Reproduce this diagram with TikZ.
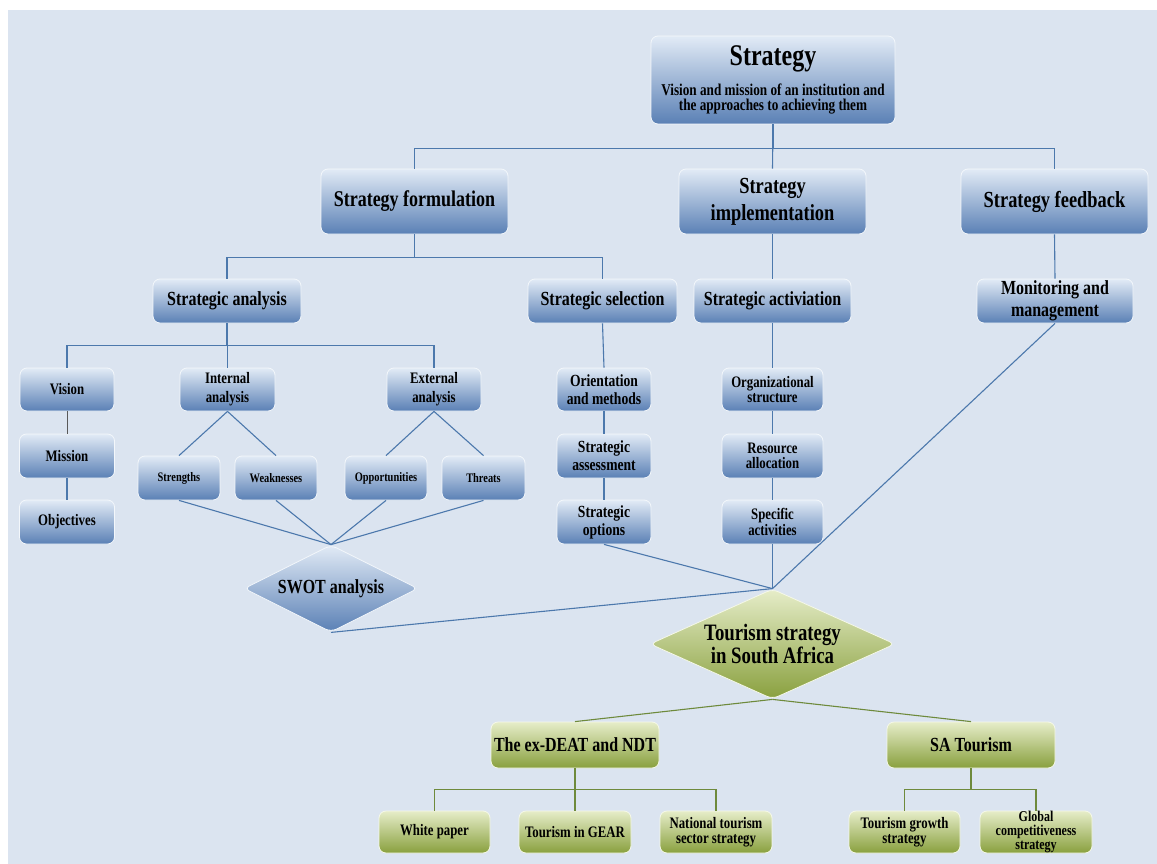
\documentclass[tikz,border=0pt]{standalone}
\usepackage{fontspec}
\setmainfont{Liberation Serif}[FakeStretch=0.8]
\usetikzlibrary{shapes.geometric}
\definecolor{pagebg}{HTML}{DBE4F0}
\definecolor{btop}{HTML}{E2EBF6}
\definecolor{bbot}{HTML}{5A80B5}
\definecolor{gtop}{HTML}{E6EDC9}
\definecolor{gbot}{HTML}{89A03E}
\definecolor{bline}{HTML}{4C78AC}
\definecolor{gline}{HTML}{6E8A3C}
\newcommand\fsz[2]{\fontsize{#1}{#2}\selectfont\bfseries}
\tikzset{
  bbox/.style={rectangle, rounded corners=7, draw=white!60!btop, line width=0.8,
    top color=btop, bottom color=bbot, align=center, inner sep=0, text=black},
  gbox/.style={bbox, top color=gtop, bottom color=gbot, draw=white!60!gtop},
  bdiam/.style={diamond, aspect=2, rounded corners=6, draw=white!60!btop, line width=0.8,
    top color=btop, bottom color=bbot, align=center, inner sep=0},
  gdiam/.style={bdiam, top color=gtop, bottom color=gbot, draw=white!60!gtop},
  bl/.style={draw=bline, line width=1.1},
  gl/.style={draw=gline, line width=1.1},
  fs/.style 2 args={font=\fsz{#1}{#2}},
}
\begin{document}
\begin{tikzpicture}[x=1pt, y=-1pt]
\useasboundingbox (0,0) rectangle (1157,864);
\fill[pagebg] (8,10) rectangle (1157,864);

% top level
\node[bbox, fs={16.5}{15}, minimum width=244, minimum height=88] (strat) at (773,80)
  {{\fontsize{30}{30}\selectfont Strategy}\\[10pt]Vision and mission of an institution and\\the approaches to achieving them};

% second level
\node[bbox, fs={22.5}{27}, minimum width=187, minimum height=65] (form) at (414.5,201.5) {Strategy formulation};
\node[bbox, fs={23}{27}, minimum width=187, minimum height=65] (impl) at (772.5,201.5) {Strategy\\implementation};
\node[bbox, fs={23}{27}, minimum width=187, minimum height=65] (fb) at (1054.5,201.5) {Strategy feedback};

% third level
\node[bbox, fs={20}{22}, minimum width=148, minimum height=44] (sana) at (227,301) {Strategic analysis};
\node[bbox, fs={20}{22}, minimum width=149, minimum height=44] (ssel) at (602.5,301) {Strategic selection};
\node[bbox, fs={20}{22}, minimum width=157, minimum height=44] (sact) at (772.5,301) {Strategic activiation};
\node[bbox, fs={20}{22}, minimum width=156, minimum height=44] (mon) at (1055,301) {Monitoring and\\management};

% strategic analysis branch
\node[bbox, fs={16}{19}, minimum width=94, minimum height=43] (vis) at (67,389.5) {Vision};
\node[bbox, fs={16}{19}, minimum width=95, minimum height=44] (mis) at (67,456) {Mission};
\node[bbox, fs={16}{19}, minimum width=95, minimum height=44] (obj) at (67,522) {Objectives};
\node[bbox, fs={16}{19}, minimum width=95, minimum height=43] (ia) at (227.5,389.5) {Internal\\analysis};
\node[bbox, fs={16}{19}, minimum width=94, minimum height=43] (ea) at (434,389.5) {External\\analysis};
\node[bbox, fs={13}{15}, minimum width=82, minimum height=44] (str) at (179,478) {Strengths};
\node[bbox, fs={13}{15}, minimum width=82, minimum height=44] (wea) at (276,478) {Weaknesses};
\node[bbox, fs={13}{15}, minimum width=82, minimum height=44] (opp) at (386,478) {Opportunities};
\node[bbox, fs={13}{15}, minimum width=83, minimum height=44] (thr) at (483.5,478) {Threats};
\node[bdiam, fs={20}{22}, minimum width=174, minimum height=87] (swot) at (331,588.5) {SWOT analysis};

% strategic selection branch
\node[bbox, fs={17}{18}, minimum width=94, minimum height=43] (ori) at (604,389.5) {Orientation\\and methods};
\node[bbox, fs={17}{18}, minimum width=94, minimum height=44] (sas) at (604,456) {Strategic\\assessment};
\node[bbox, fs={17}{18}, minimum width=94, minimum height=44] (sop) at (604,522) {Strategic\\options};

% strategic activation branch
\node[bbox, fs={16}{14.5}, minimum width=101, minimum height=43] (org) at (772.5,389.5) {Organizational\\structure};
\node[bbox, fs={16}{15}, minimum width=101, minimum height=44] (res) at (772.5,456) {Resource\\allocation};
\node[bbox, fs={16}{14.5}, minimum width=101, minimum height=44] (spa) at (772.5,522) {Specific\\activities};

% tourism part
\node[gdiam, fs={23.5}{20}, minimum width=245, minimum height=110] (tour) at (772.5,644) {Tourism strategy\\in South Africa};
\node[gbox, fs={20}{20}, minimum width=168, minimum height=46] (deat) at (575,745) {The ex-DEAT and NDT};
\node[gbox, fs={20}{20}, minimum width=168, minimum height=46] (sat) at (971,745) {SA Tourism};
\node[gbox, fs={16}{18}, minimum width=111, minimum height=42] (wp) at (434.5,832) {White paper};
\node[gbox, fs={16}{14.5}, minimum width=112, minimum height=42] (nts) at (716,832) {National tourism\\sector strategy};
\node[gbox, fs={16}{18}, minimum width=112, minimum height=42] (gear) at (575,832) {Tourism in GEAR};
\node[gbox, fs={16}{15}, minimum width=111, minimum height=42] (tgs) at (904.5,832) {Tourism growth\\strategy};
\node[gbox, fs={15}{14}, minimum width=112, minimum height=42] (gcs) at (1036,832) {Global\\competitiveness\\strategy};

% connectors: strategy tree
\draw[bl] (strat.south) -- (impl.north);
\draw[bl] (strat.south) -- ++(0,24) -| (form.north);
\draw[bl] (strat.south) -- ++(0,24) -| (fb.north);
\draw[bl] (form.south) -- ++(0,23) -| (sana.north);
\draw[bl] (form.south) -- ++(0,23) -| (ssel.north);
\draw[bl] (impl.south) -- (sact.north);
\draw[bl] (fb.south) -- (mon.north);
\draw[bl] (sana.south) -- ++(0,22) -| (vis.north);
\draw[bl] (sana.south) -- ++(0,22) -| (ia.north);
\draw[bl] (sana.south) -- ++(0,22) -| (ea.north);
\draw[draw=black!65, line width=1] (vis.south) -- (mis.north);
\draw[bl] (mis.south) -- (obj.north);
\draw[bl] (ia.south) -- (str.north);
\draw[bl] (ia.south) -- (wea.north);
\draw[bl] (ea.south) -- (opp.north);
\draw[bl] (ea.south) -- (thr.north);
\foreach \n in {str,wea,opp,thr} \draw[bl] (\n.south) -- (swot.north);
\draw[bl] (ssel.south) -- (ori.north);
\draw[bl] (ori.south) -- (sas.north);
\draw[bl] (sas.south) -- (sop.north);
\draw[bl] (sact.south) -- (org.north);
\draw[bl] (org.south) -- (res.north);
\draw[bl] (res.south) -- (spa.north);

% connectors into the tourism strategy
\draw[bl] (swot.south) -- (tour.north);
\draw[bl] (sop.south) -- (tour.north);
\draw[bl] (spa.south) -- (tour.north);
\draw[bl] (mon.south) -- (tour.north);

% connectors: tourism tree
\draw[gl] (tour.south) -- (deat.north);
\draw[gl] (tour.south) -- (sat.north);
\draw[gl] (deat.south) -- ++(0,21) -| (wp.north);
\draw[gl] (deat.south) -- ++(0,21) -| (nts.north);
\draw[gl] (deat.south) -- (gear.north);
\draw[gl] (sat.south) -- ++(0,21) -| (tgs.north);
\draw[gl] (sat.south) -- ++(0,21) -| (gcs.north);
\end{tikzpicture}
\end{document}
